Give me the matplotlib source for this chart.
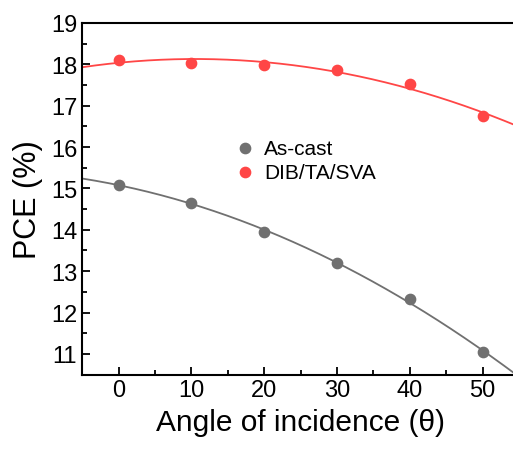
import numpy as np
import matplotlib.pyplot as plt

plt.rcParams['font.family'] = ['Liberation Sans', 'DejaVu Sans']

# incidence angle (deg) and PCE (%)
angle = [0, 10, 20, 30, 40, 50]
pce_ascast = [15.09, 14.64, 13.95, 13.19, 12.32, 11.04]
pce_dib = [18.11, 18.03, 17.99, 17.87, 17.52, 16.76]

gray = '#707070'
red = '#ff4646'

# quadratic fits drawn through the data, like the original
xfit = np.linspace(-5, 55, 200)
fit_ascast = np.polyval(np.polyfit(angle, pce_ascast, 2), xfit)
fit_dib = np.polyval(np.polyfit(angle, pce_dib, 2), xfit)

fig = plt.figure(figsize=(5.13, 4.52), dpi=100)
ax = fig.add_axes([0.160, 0.169, 0.852, 0.778])

ax.plot(xfit, fit_ascast, color=gray, lw=1.3)
ax.plot(xfit, fit_dib, color=red, lw=1.3)
ax.scatter(angle, pce_ascast, s=55, color=gray, zorder=3, label='As-cast')
ax.scatter(angle, pce_dib, s=55, color=red, zorder=3, label='DIB/TA/SVA')

ax.set_xlim(-5, 55)
ax.set_ylim(10.5, 19)
ax.set_xticks([0, 10, 20, 30, 40, 50])
ax.set_xticks([5, 15, 25, 35, 45], minor=True)
ax.set_yticks(range(11, 20))
ax.set_yticks(np.arange(10.5, 19, 1), minor=True)
ax.tick_params(which='both', direction='in', width=1.3, labelsize=17)
ax.tick_params(which='major', length=6)
ax.tick_params(which='minor', length=3.5)
for s in ax.spines.values():
    s.set_linewidth(1.5)

ax.set_xlabel('Angle of incidence (\u03b8)', fontsize=21.5, labelpad=5)
ax.set_ylabel('PCE (%)', fontsize=22, labelpad=6)

ax.legend(loc='upper left', bbox_to_anchor=(0.349, 0.671), frameon=False,
          fontsize=15, handlelength=1.0, handletextpad=0.42, labelspacing=0.25,
          borderpad=0, borderaxespad=0, scatterpoints=1)

fig.savefig('out.png', dpi=100)
